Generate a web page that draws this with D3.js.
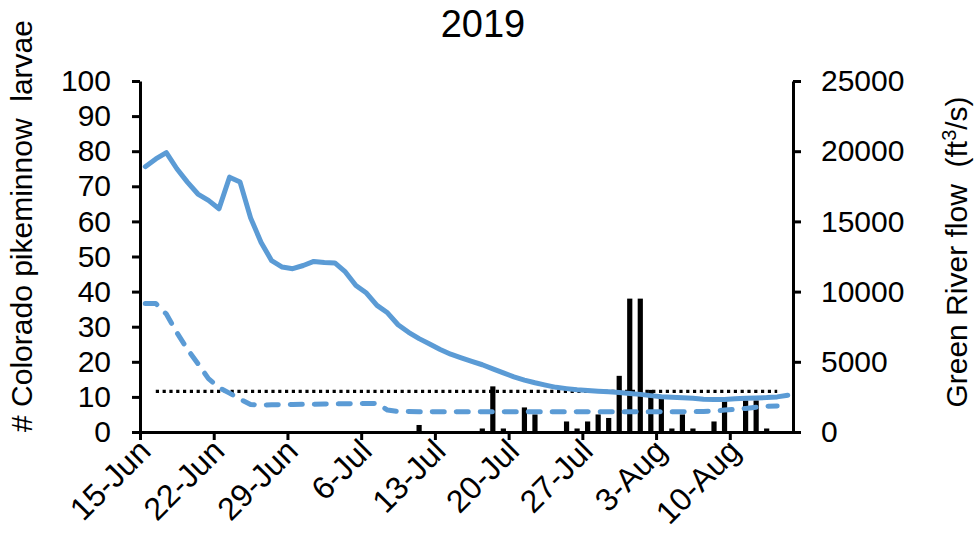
<!DOCTYPE html>
<html lang="en">
<head>
  <meta charset="UTF-8">
  <script src="https://d3js.org/d3.v7.min.js"></script>
  <style>
    body { margin: 0; background: #fff; }
    text { font-family: Arial, "Liberation Sans", sans-serif; fill: #000; }
  </style>
</head>
<body>
<div id="chart"></div>
<script>
// values, one per day starting 15-Jun-2019
var firstDay = "2019-06-15";
var lastDay = "2019-08-16";

// larvae caught per day (left axis)
var larvae = [0, 0, 0, 0, 0, 0, 0, 0, 0, 0,
              0, 0, 0, 0, 0, 0, 0, 0, 0, 0,
              0, 0, 0, 0, 0, 0, 2, 0, 0, 0,
              0, 0, 1, 13, 1, 0, 7, 5, 0, 0,
              3, 1, 3, 5, 4, 16, 38, 38, 12, 10,
              1, 5, 1, 0, 3, 9, 0, 9, 9, 1,
              0, 0];

// Green River flow, solid line (right axis)
var flow = [18900, 19450, 19900, 18750, 17800, 16950, 16500, 15900, 18150, 17800,
            15250, 13500, 12200, 11750, 11630, 11860, 12150, 12070, 12040, 11400,
            10440, 9900, 9020, 8490, 7640, 7100, 6650, 6270, 5880, 5540,
            5280, 5030, 4790, 4500, 4210, 3930, 3700, 3510, 3340, 3180,
            3090, 3010, 2950, 2900, 2860, 2810, 2740, 2680, 2590, 2510,
            2470, 2440, 2400, 2340, 2320, 2320, 2370, 2410, 2430, 2450,
            2500, 2620];

// dashed line (right axis)
var flowDashed = [9150, 9150, 8400, 7080, 5900, 4870, 3800, 3160, 2770, 2340,
                  1960, 1920, 1940, 1950, 1960, 1970, 1980, 1990, 2000, 2010,
                  2020, 2030, 2040, 1560, 1470, 1460, 1450, 1450, 1440, 1440,
                  1450, 1450, 1440, 1440, 1440, 1450, 1450, 1440, 1440, 1440,
                  1440, 1450, 1450, 1440, 1440, 1440, 1440, 1450, 1450, 1440,
                  1440, 1440, 1450, 1460, 1500, 1560, 1620, 1680, 1760, 1840,
                  1850];

// dotted reference line (right axis)
var thresholdFlow = 2900;
var thresholdDays = [1, 60];

var leftTicks = [0, 10, 20, 30, 40, 50, 60, 70, 80, 90, 100];
var rightTicks = [0, 5000, 10000, 15000, 20000, 25000];
var dateTicks = ["2019-06-15", "2019-06-22", "2019-06-29", "2019-07-06", "2019-07-13",
                 "2019-07-20", "2019-07-27", "2019-08-03", "2019-08-10"];

var width = 977, height = 544;
var plotLeft = 140, plotRight = 793, plotTop = 81, plotBottom = 432;

var svg = d3.select("#chart")
  .append("svg")
  .attr("width", width)
  .attr("height", height);

var parse = d3.utcParse("%Y-%m-%d");
var x = d3.scaleUtc()
  .domain([parse(firstDay), parse(lastDay)])
  .range([plotLeft, plotRight]);
var yL = d3.scaleLinear().domain([0, 100]).range([plotBottom, plotTop]);
var yR = d3.scaleLinear().domain([0, 25000]).range([plotBottom, plotTop]);

// each day sits in the middle of its slot
function dayX(i) {
  return x(d3.utcHour.offset(parse(firstDay), i * 24 + 12));
}

// bars
var barW = 5.2;
svg.append("g")
  .selectAll("rect")
  .data(larvae)
  .enter()
  .append("rect")
    .attr("x", function(d, i) { return dayX(i) - barW / 2; })
    .attr("y", function(d) { return yL(d); })
    .attr("width", barW)
    .attr("height", function(d) { return yL(0) - yL(d); })
    .attr("fill", "#000");

var line = d3.line()
  .x(function(d, i) { return dayX(i); })
  .y(function(d) { return yR(d); });

// dotted line
svg.append("line")
  .attr("x1", dayX(thresholdDays[0]))
  .attr("x2", dayX(thresholdDays[1]))
  .attr("y1", yR(thresholdFlow))
  .attr("y2", yR(thresholdFlow))
  .attr("stroke", "#000")
  .attr("stroke-width", 3.2)
  .attr("stroke-dasharray", "3.2,3.6");

// dashed line
svg.append("path")
  .datum(flowDashed)
  .attr("d", line)
  .attr("fill", "none")
  .attr("stroke", "#5B9BD5")
  .attr("stroke-width", 5)
  .attr("stroke-linecap", "round")
  .attr("stroke-linejoin", "round")
  .attr("stroke-dasharray", "12,12");

// solid flow line
svg.append("path")
  .datum(flow)
  .attr("d", line)
  .attr("fill", "none")
  .attr("stroke", "#5B9BD5")
  .attr("stroke-width", 5)
  .attr("stroke-linecap", "round")
  .attr("stroke-linejoin", "round");

// axes
function styleAxis(g) {
  g.selectAll("path").attr("stroke", "#000").attr("stroke-width", 3);
  g.selectAll("line").attr("stroke", "#000").attr("stroke-width", 3);
  g.selectAll("text").attr("font-size", 30).attr("fill", "#000")
    .attr("font-family", "Arial, 'Liberation Sans', sans-serif");
}

svg.append("g")
  .attr("transform", "translate(" + plotLeft + ",0)")
  .call(d3.axisLeft(yL).tickValues(leftTicks).tickSize(8).tickSizeOuter(0).tickPadding(21))
  .call(styleAxis);

svg.append("g")
  .attr("transform", "translate(" + plotRight + ",0)")
  .call(d3.axisRight(yR).tickValues(rightTicks).tickFormat(d3.format("d"))
    .tickSize(8).tickSizeOuter(0).tickPadding(20))
  .call(styleAxis);

var xAxis = svg.append("g")
  .attr("transform", "translate(0," + plotBottom + ")")
  .call(d3.axisBottom(x)
    .tickValues(dateTicks.map(parse))
    .tickFormat(d3.utcFormat("%-d-%b"))
    .tickSize(8)
    .tickSizeOuter(0))
  .call(styleAxis);

xAxis.selectAll("text")
  .attr("x", 0)
  .attr("y", 0)
  .attr("dy", 0)
  .attr("font-size", 32)
  .attr("text-anchor", "end")
  .attr("transform", "translate(12,21) rotate(-45)");

// titles
svg.append("text")
  .attr("x", 483)
  .attr("y", 37)
  .attr("text-anchor", "middle")
  .attr("font-size", 38)
  .text("2019");

svg.append("text")
  .attr("transform", "translate(32,226) rotate(-90)")
  .attr("text-anchor", "middle")
  .attr("font-size", 30)
  .text("# Colorado pikeminnow \u00A0larvae");

var rt = svg.append("text")
  .attr("transform", "translate(967,252) rotate(-90)")
  .attr("text-anchor", "middle")
  .attr("font-size", 30);
rt.append("tspan").text("Green River flow \u00A0(ft");
rt.append("tspan").attr("font-size", 20).attr("dy", -11).text("3");
rt.append("tspan").attr("dy", 11).text("/s)");
</script>
</body>
</html>
